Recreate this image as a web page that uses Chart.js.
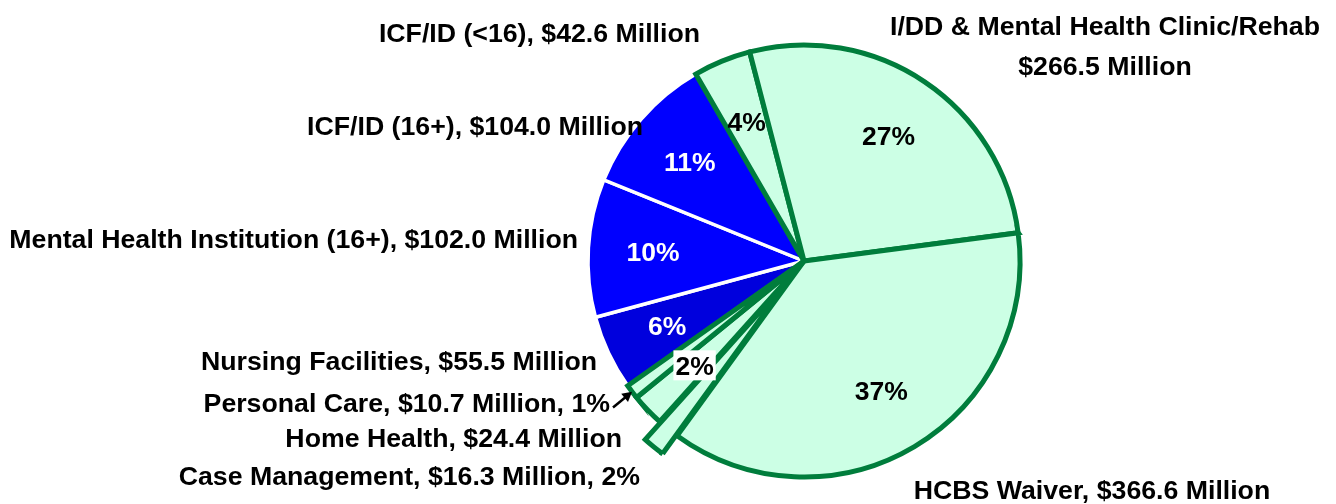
<!DOCTYPE html>
<html>
<head>
<meta charset="utf-8">
<script src="https://cdn.jsdelivr.net/npm/chart.js@4/dist/chart.umd.min.js"></script>
<style>
  html, body { margin: 0; padding: 0; background: #ffffff; }
  #wrap { width: 1336px; height: 504px; }
</style>
</head>
<body>
<div id="wrap"><canvas id="c" width="1336" height="504"></canvas></div>
<script>
// ---- data, in clockwise drawing order ----
const categories = [
  'Nursing Facilities',
  'Mental Health Institution (16+)',
  'ICF/ID (16+)',
  'ICF/ID (<16)',
  'I/DD & Mental Health Clinic/Rehab',
  'HCBS Waiver',
  'Case Management',
  'Home Health',
  'Personal Care'
];
const valuesMillions = [55.5, 102.0, 104.0, 42.6, 266.5, 366.6, 16.3, 24.4, 10.7];
const percentInOuterLabel = ['Case Management', 'Personal Care'];
const explodedSlices = ['Case Management'];
const twoLineLabels = ['I/DD & Mental Health Clinic/Rehab'];

// ---- styles ----
const GREEN_FILL = '#CCFFE5';
const GREEN_LINE = '#007D3C';
const fillColors   = ['#0000DD', '#0000FF', '#0000FF', GREEN_FILL, GREEN_FILL, GREEN_FILL, GREEN_FILL, GREEN_FILL, GREEN_FILL];
const borderColors = ['#FFFFFF', '#FFFFFF', '#FFFFFF', GREEN_LINE, GREEN_LINE, GREEN_LINE, GREEN_LINE, GREEN_LINE, GREEN_LINE];
const borderWidths = [3.5, 3.5, 3.5, 5, 5, 5, 5, 5, 5];
const pctColors    = ['#FFFFFF', '#FFFFFF', '#FFFFFF', '#000000', '#000000', '#000000', '#000000', '#000000', '#000000'];
const boxedPct     = ['Home Health'];
// outer label placement relative to the pie centre (layout only)
const labelLayout = [
  { dx: -207, dy: 109,    align: 'right' },
  { dx: -226, dy: -13.5,  align: 'right' },
  { dx: -161, dy: -126.5, align: 'right' },
  { dx: -104, dy: -219.5, align: 'right' },
  { dx: 301,  dy: -226.5, align: 'center', lineGap: 40 },
  { dx: 288,  dy: 238,    align: 'center' },
  { dx: -164, dy: 223.5,  align: 'right' },
  { dx: -182, dy: 185.5,  align: 'right' },
  { dx: -194, dy: 150.5,  align: 'right', arrow: true }
];
const FONT = 'bold 26.7px "Liberation Sans", Arial, sans-serif';
const PCT_FONT = 'bold 26.5px "Liberation Sans", Arial, sans-serif';
const EXPLODE_PX = 23;

const total = valuesMillions.reduce((a, b) => a + b, 0);
const pctText = v => Math.round(v / total * 100) + '%';
const money = v => '$' + v.toFixed(1) + ' Million';

// explode selected slices by translating them along their mid angle
const explodePlugin = {
  id: 'explode',
  beforeDatasetsDraw(chart) {
    const meta = chart.getDatasetMeta(0);
    meta.data.forEach((arc, i) => {
      if (!explodedSlices.includes(categories[i]) || arc._patched) return;
      const orig = arc.draw.bind(arc);
      arc.draw = function (ctx, area) {
        const mid = (this.startAngle + this.endAngle) / 2;
        ctx.save();
        ctx.translate(Math.cos(mid) * EXPLODE_PX, Math.sin(mid) * EXPLODE_PX);
        orig(ctx, area);
        ctx.restore();
      };
      arc._patched = true;
    });
  }
};

const labelPlugin = {
  id: 'sliceLabels',
  afterDatasetsDraw(chart) {
    const ctx = chart.ctx;
    const meta = chart.getDatasetMeta(0);
    ctx.save();
    meta.data.forEach((arc, i) => {
      const { x, y, startAngle, endAngle, outerRadius } = arc;
      const mid = (startAngle + endAngle) / 2;
      const name = categories[i];
      const v = valuesMillions[i];
      // inner percentage labels
      if (!percentInOuterLabel.includes(name)) {
        const r = outerRadius * 0.70;
        const px = x + Math.cos(mid) * r;
        const py = y + Math.sin(mid) * r;
        ctx.font = PCT_FONT;
        const t = pctText(v);
        const w = ctx.measureText(t).width;
        if (boxedPct.includes(name)) {
          ctx.fillStyle = '#FFFFFF';
          ctx.fillRect(px - w / 2 - 2, py - 15, w + 4, 30);
        }
        ctx.fillStyle = pctColors[i];
        ctx.textAlign = 'center';
        ctx.textBaseline = 'alphabetic';
        ctx.fillText(t, px, py + 9.5);
      }
      // outer labels
      const L = labelLayout[i];
      ctx.font = FONT;
      ctx.fillStyle = '#000000';
      ctx.textAlign = L.align;
      ctx.textBaseline = 'alphabetic';
      const lx = x + L.dx, ly = y + L.dy;
      if (twoLineLabels.includes(name)) {
        ctx.fillText(name, lx, ly);
        ctx.fillText(money(v), lx, ly + L.lineGap);
      } else {
        let t = name + ', ' + money(v);
        if (percentInOuterLabel.includes(name)) t += ', ' + pctText(v);
        ctx.fillText(t, lx, ly);
      }
      if (L.arrow) {
        const tx = x + Math.cos(mid) * outerRadius;
        const ty = y + Math.sin(mid) * outerRadius;
        const sx = lx + 3, sy = ly - 4;
        const ang = Math.atan2(ty - sy, tx - sx);
        ctx.strokeStyle = '#000000';
        ctx.lineWidth = 2.5;
        ctx.beginPath();
        ctx.moveTo(sx, sy);
        ctx.lineTo(tx - Math.cos(ang) * 7, ty - Math.sin(ang) * 7);
        ctx.stroke();
        ctx.beginPath();
        ctx.moveTo(tx, ty);
        ctx.lineTo(tx - Math.cos(ang - 0.5) * 11, ty - Math.sin(ang - 0.5) * 11);
        ctx.lineTo(tx - Math.cos(ang + 0.5) * 11, ty - Math.sin(ang + 0.5) * 11);
        ctx.closePath();
        ctx.fillStyle = '#000000';
        ctx.fill();
      }
    });
    ctx.restore();
  }
};

new Chart(document.getElementById('c'), {
  type: 'pie',
  data: {
    labels: categories,
    datasets: [{
      data: valuesMillions,
      backgroundColor: fillColors,
      borderColor: borderColors,
      borderWidth: borderWidths,
      borderJoinStyle: 'miter',
      borderAlign: 'center'
    }]
  },
  options: {
    responsive: false,
    devicePixelRatio: 1,
    animation: false,
    rotation: 234.7,
    radius: 216,
    layout: { padding: { left: 290, right: 18, top: 18, bottom: 0 } },
    plugins: { legend: { display: false }, tooltip: { enabled: false } },
    events: []
  },
  plugins: [explodePlugin, labelPlugin]
});
</script>
</body>
</html>
